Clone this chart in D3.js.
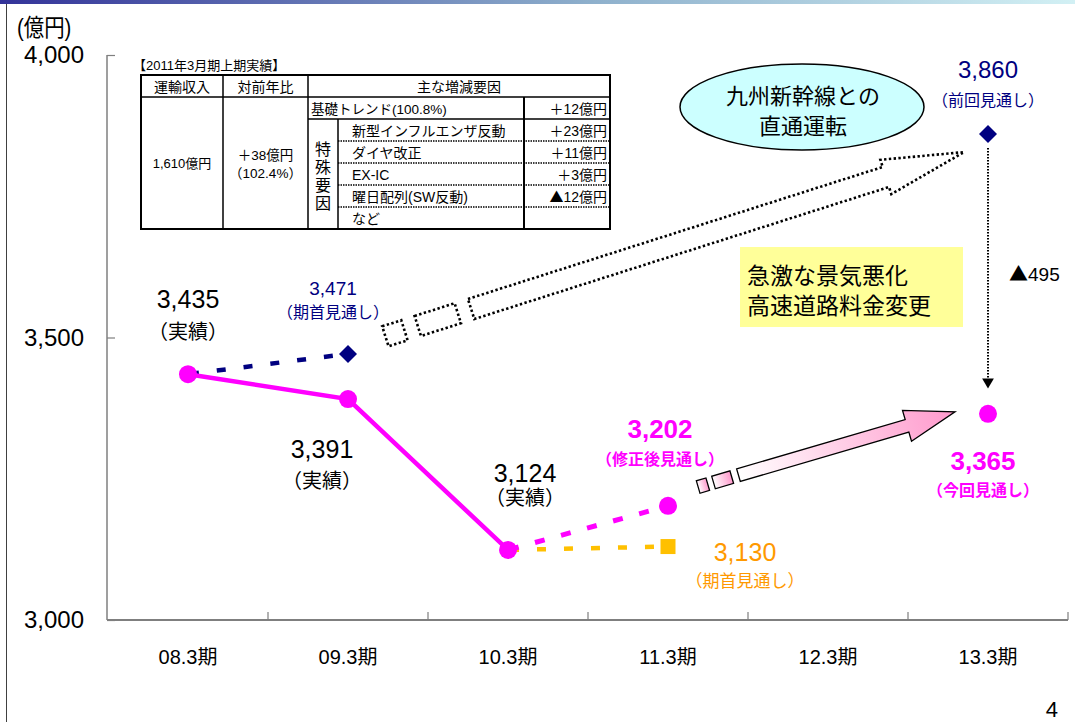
<!DOCTYPE html>
<html><head><meta charset="utf-8">
<script src="https://cdn.jsdelivr.net/npm/d3@7"></script>
<style>
html,body{margin:0;padding:0;background:#fff;}
svg{display:block;font-family:"Liberation Sans","Noto Sans CJK JP",sans-serif;}
.cjk{font-family:"Noto Sans CJK JP",sans-serif;}
</style></head>
<body>
<svg id="chart" width="1075" height="722"></svg>
<script>
// ---------- data ----------
const categories = ["08.3期","09.3期","10.3期","11.3期","12.3期","13.3期"];
const yTicks = [3000, 3500, 4000];

const actualCats = ["08.3期","09.3期","10.3期"];
const actualVals = [3435, 3391, 3124];

const revisedCats = ["10.3期","11.3期"];          // 修正後見通し
const revisedVals = [3124, 3202];

const initFY10Cats = ["08.3期","09.3期"];         // 期首見通し (09.3期)
const initFY10Vals = [3435, 3471];

const initFY11Cats = ["10.3期","11.3期"];         // 期首見通し (11.3期)
const initFY11Vals = [3124, 3130];

const prevForecastCat = "13.3期", prevForecastVal = 3860;   // 前回見通し
const currForecastCat = "13.3期", currForecastVal = 3365;   // 今回見通し
const gapLabel = ["▲","495"];

const tableTitle = "【2011年3月期上期実績】";
const tableHeaders = ["運輸収入","対前年比","主な増減要因"];
const tableRevenue = "1,610億円";
const tableYoY = ["＋38億円","（102.4%）"];
const trendItem = ["基礎トレンド(100.8%)","＋12億円"];
const specialGroup = ["特","殊","要","因"];
const specialItems = ["新型インフルエンザ反動","ダイヤ改正","EX-IC","曜日配列(SW反動)","など"];
const specialValues = ["＋23億円","＋11億円","＋3億円","▲12億円",""];

const calloutEllipse = ["九州新幹線との","直通運転"];
const calloutBox = ["急激な景気悪化","高速道路料金変更"];

// ---------- setup ----------
const svg = d3.select("#chart");
const defs = svg.append("defs");

const x = d3.scaleBand().domain(categories).range([108, 1068]);
const cx = c => x(c) + x.bandwidth()/2;
const y = d3.scaleLinear().domain([3000, 4000]).range([620, 55]);

const NAVY = "#000080", MAG = "#FF00FF", GOLD = "#FFC000", ORANGE = "#FF9900";

// top gradient bar
const g1 = defs.append("linearGradient").attr("id","topbar");
g1.append("stop").attr("offset","0%").attr("stop-color","#333399");
g1.append("stop").attr("offset","55%").attr("stop-color","#8eb0cc");
g1.append("stop").attr("offset","100%").attr("stop-color","#d2f0f4");
svg.append("rect").attr("x",0).attr("y",0).attr("width",1075).attr("height",4).attr("fill","url(#topbar)");
svg.append("line").attr("x1",6.5).attr("x2",6.5).attr("y1",4).attr("y2",722).attr("stroke","#404040").attr("stroke-width",1);

// unit label
svg.append("text").attr("x",17).attr("y",36).attr("font-size",24)
  .attr("font-family","'Liberation Sans Narrow','Liberation Sans','Noto Sans CJK JP'")
  .attr("transform","translate(17,36) scale(0.85,1) translate(-17,-36)")
  .text("(億円)");

// ---------- axes ----------
const yAxis = d3.axisRight(y).tickValues(yTicks).tickSize(8).tickFormat("");
const yg = svg.append("g").attr("transform","translate(107,0)").call(yAxis);
yg.select(".domain").attr("stroke","#7f7f7f").attr("stroke-width",1.5).attr("d","M0,55V620");
yg.selectAll(".tick line").attr("stroke","#7f7f7f").attr("stroke-width",1.2);
svg.selectAll(".ylab").data(yTicks).enter().append("text")
  .attr("x",84).attr("y",d=>y(d)+8).attr("text-anchor","end").attr("font-size",24)
  .text(d=>d3.format(",")(d));

const xAxis = d3.axisTop(x).tickSize(0).tickFormat("");
const xg = svg.append("g").attr("transform","translate(0,620)").call(xAxis);
xg.select(".domain").attr("stroke","#7f7f7f").attr("stroke-width",2).attr("d","M107,0H1068");
xg.selectAll(".bt").data(categories).enter().append("line")
  .attr("x1",d=>x(d)+x.bandwidth()).attr("x2",d=>x(d)+x.bandwidth())
  .attr("y1",0).attr("y2",-8).attr("stroke","#7f7f7f").attr("stroke-width",1.2);
svg.selectAll(".xlab").data(categories).enter().append("text")
  .attr("x",d=>cx(d)).attr("y",664).attr("text-anchor","middle").attr("font-size",20)
  .attr("font-family","'Liberation Sans Narrow','Liberation Sans','Noto Sans CJK JP'")
  .text(d=>d);

svg.append("text").attr("x",1058).attr("y",717).attr("text-anchor","end").attr("font-size",22).text("4");

// ---------- table ----------
const T = svg.append("g");
T.append("text").attr("x",133).attr("y",70).attr("font-size",13).text(tableTitle);
const tL=141, tR=610, tT=75, tB=229, c1=223, c2=308, c3=338, c4=524, hB=97, r1=119;
const rowH = (tB - r1)/specialItems.length;
const line = (x1,y1,x2,y2,w,dash)=>T.append("line").attr("x1",x1).attr("y1",y1).attr("x2",x2).attr("y2",y2)
   .attr("stroke","#000").attr("stroke-width",w).attr("stroke-dasharray",dash||null);
line(tL,hB,tR,hB,1.5); line(c2,r1,tR,r1,1.5);
line(c1,tT,c1,tB,1.5); line(c2,tT,c2,tB,1.5); line(c3,r1,c3,tB,1.5); line(c4,hB,c4,tB,2);
specialItems.slice(1).forEach((d,i)=>line(c3,r1+rowH*(i+1),tR,r1+rowH*(i+1),1.5,"1.5,1"));
T.append("rect").attr("x",tL).attr("y",tT).attr("width",tR-tL).attr("height",tB-tT).attr("fill","none").attr("stroke","#000").attr("stroke-width",2);
const tt=(tx,ty,s,anchor,fs)=>{
  const t=T.append("text").attr("x",tx).attr("y",ty).attr("text-anchor",anchor||"start").attr("font-size",fs||13);
  if(s.startsWith("▲")){ t.append("tspan").attr("class","cjk").text("▲"); t.append("tspan").text(s.slice(1)); }
  else t.text(s);
  return t;
};
tt((tL+c1)/2,92,tableHeaders[0],"middle",14);
tt((c1+c2)/2,92,tableHeaders[1],"middle",14);
tt((c2+tR)/2,92,tableHeaders[2],"middle",14);
tt((tL+c1)/2,168,tableRevenue,"middle",13);
tt((c1+c2)/2,160,tableYoY[0],"middle",13.5);
tt((c1+c2)/2,178,tableYoY[1],"middle",13.5);
tt(c2+3,114,trendItem[0],"start",13.5);
tt(tR-3,114,trendItem[1],"end",14);
specialGroup.forEach((c,i)=>tt((c2+c3)/2,155+i*18,c,"middle",16));
specialItems.forEach((s,i)=>tt(c3+14,r1+rowH*i+17,s,"start",14));
specialValues.forEach((s,i)=>tt(tR-3,r1+rowH*i+17,s,"end",14));

// ---------- callouts ----------
svg.append("ellipse").attr("cx",802).attr("cy",107).attr("rx",122).attr("ry",43)
  .attr("fill","#CCFFFF").attr("stroke","#000").attr("stroke-width",1.5);
calloutEllipse.forEach((s,i)=>svg.append("text").attr("x",803).attr("y",104+i*30)
  .attr("text-anchor","middle").attr("font-size",22).text(s));

svg.append("rect").attr("x",740).attr("y",247).attr("width",223).attr("height",80).attr("fill","#FFFF99");
calloutBox.forEach((s,i)=>svg.append("text").attr("x",747).attr("y",284+i*30)
  .attr("font-size",23).text(s));

// block arrow helper (drawn along local x axis)
function blockArrow(p0, p1, opt){
  const dx=p1[0]-p0[0], dy=p1[1]-p0[1];
  const L=Math.hypot(dx,dy), ang=Math.atan2(dy,dx)*180/Math.PI;
  const g=svg.append("g").attr("transform",`translate(${p0[0]},${p0[1]}) rotate(${ang})`);
  const w=opt.shaft/2, hw=opt.head/2, hl=opt.headLen;
  const st = sel=>sel.attr("stroke","#000").attr("stroke-width",opt.sw).attr("stroke-dasharray",opt.dash||null)
      .attr("fill",opt.fill).attr("stroke-linejoin","miter");
  opt.pieces.forEach(p=>st(g.append("rect").attr("x",p[0]).attr("y",-w).attr("width",p[1]-p[0]).attr("height",2*w)));
  const s=opt.shaftStart;
  st(g.append("path").attr("d",`M${s},${-w}L${L-hl},${-w}L${L-hl},${-hw}L${L},0L${L-hl},${hw}L${L-hl},${w}L${s},${w}Z`));
}
// dotted arrow toward 前回見通し
blockArrow([cx("09.3期")+45, y(3471)-20],[cx(prevForecastCat)-24, y(prevForecastVal)+18],
  {shaft:21, head:36, headLen:82, sw:2.6, dash:"2.4,2.4", fill:"none",
   pieces:[[-8,12],[26,68]], shaftStart:82});

// pink gradient arrow toward 今回見通し
const g2 = defs.append("linearGradient").attr("id","pinkgrad");
g2.append("stop").attr("offset","0%").attr("stop-color","#ffffff");
g2.append("stop").attr("offset","100%").attr("stop-color","#FF99CC");
blockArrow([cx("11.3期")+34, y(3202)-20],[cx(currForecastCat)-33, y(currForecastVal)-2],
  {shaft:13, head:32, headLen:50, sw:1.3, dash:null, fill:"url(#pinkgrad)",
   pieces:[[-4,6],[12,31]], shaftStart:38});

// vertical dotted down-arrow (gap)
svg.append("line").attr("x1",cx(prevForecastCat)).attr("x2",cx(prevForecastCat))
  .attr("y1",y(prevForecastVal)+14).attr("y2",y(currForecastVal)-34)
  .attr("stroke","#000").attr("stroke-width",2).attr("stroke-dasharray","1.5,1.5");
svg.append("path").attr("d",d3.symbol(d3.symbolTriangle,60)())
  .attr("transform",`translate(${cx(prevForecastCat)},${y(currForecastVal)-32}) rotate(180)`).attr("fill","#000");
const gl = svg.append("text").attr("x",1009).attr("y",281).attr("font-size",19);
gl.append("tspan").attr("class","cjk").text(gapLabel[0]);
gl.append("tspan").text(gapLabel[1]);

// ---------- series ----------
const lineGen = (cats)=>d3.line().x((d,i)=>cx(cats[i])).y(d=>y(d));

svg.append("path").attr("d",lineGen(initFY10Cats)(initFY10Vals)).attr("fill","none")
  .attr("stroke",NAVY).attr("stroke-width",4.5).attr("stroke-dasharray","9,18").attr("stroke-dashoffset",-2);
svg.append("path").attr("d",lineGen(initFY11Cats)(initFY11Vals)).attr("fill","none")
  .attr("stroke",GOLD).attr("stroke-width",4.5).attr("stroke-dasharray","9,18").attr("stroke-dashoffset",-2);
svg.append("path").attr("d",lineGen(revisedCats)(revisedVals)).attr("fill","none")
  .attr("stroke",MAG).attr("stroke-width",5).attr("stroke-dasharray","10,17").attr("stroke-dashoffset",-1);
svg.append("path").attr("d",lineGen(actualCats)(actualVals)).attr("fill","none")
  .attr("stroke",MAG).attr("stroke-width",4.5);

// markers
const diamond = s=>`M0,${-s}L${s},0L0,${s}L${-s},0Z`;
[[initFY10Cats[1],initFY10Vals[1]],[prevForecastCat,prevForecastVal]].forEach(([c,v])=>
  svg.append("path").attr("d",diamond(9)).attr("transform",`translate(${cx(c)},${y(v)})`).attr("fill",NAVY));
svg.append("rect").attr("x",cx(initFY11Cats[1])-7.5).attr("y",y(initFY11Vals[1])-7.5)
  .attr("width",15).attr("height",15).attr("fill",GOLD);
const circ = actualCats.map((c,i)=>[c,actualVals[i]]).concat([[revisedCats[1],revisedVals[1]],[currForecastCat,currForecastVal]]);
svg.selectAll(".pt").data(circ).enter().append("circle")
  .attr("cx",d=>cx(d[0])).attr("cy",d=>y(d[1])).attr("r",9).attr("fill",MAG);

// ---------- value labels ----------
const fmt = d3.format(",");
const labels = [
  {c:"08.3期", v:3435, dx:0,   dy:-66, sub:"（実績）",       dys:-35, col:"#000", fs:25, fss:20, bold:false},
  {c:"09.3期", v:3471, dx:-15, dy:-59, sub:"（期首見通し）", dys:-36, col:NAVY,  fs:19, fss:16, bold:false},
  {c:"09.3期", v:3391, dx:-26, dy:59,  sub:"（実績）",       dys:89,  col:"#000", fs:25, fss:20, bold:false},
  {c:"10.3期", v:3124, dx:17,  dy:-68, sub:"（実績）",       dys:-45, col:"#000", fs:25, fss:20, bold:false},
  {c:"11.3期", v:3202, dx:-8,  dy:-68, sub:"（修正後見通し）", dys:-41, col:MAG,  fs:26, fss:16, bold:true},
  {c:"11.3期", v:3130, dx:77,  dy:14,  sub:"（期首見通し）", dys:40,  col:ORANGE, fs:25, fss:17, bold:false},
  {c:"13.3期", v:3860, dx:0,   dy:-56, sub:"（前回見通し）", dys:-28, col:NAVY,  fs:24, fss:16, bold:false},
  {c:"13.3期", v:3365, dx:-5,  dy:56,  sub:"（今回見通し）", dys:82,  col:MAG,   fs:26, fss:16, bold:true}
];
labels.forEach(l=>{
  svg.append("text").attr("x",cx(l.c)+l.dx).attr("y",y(l.v)+l.dy).attr("text-anchor","middle")
    .attr("font-size",l.fs).attr("fill",l.col).attr("font-weight",l.bold?"bold":null).text(fmt(l.v));
  svg.append("text").attr("x",cx(l.c)+l.dx).attr("y",y(l.v)+l.dys).attr("text-anchor","middle")
    .attr("font-size",l.fss).attr("fill",l.col).attr("font-weight",l.bold?"bold":null).text(l.sub);
});
</script>
</body></html>
